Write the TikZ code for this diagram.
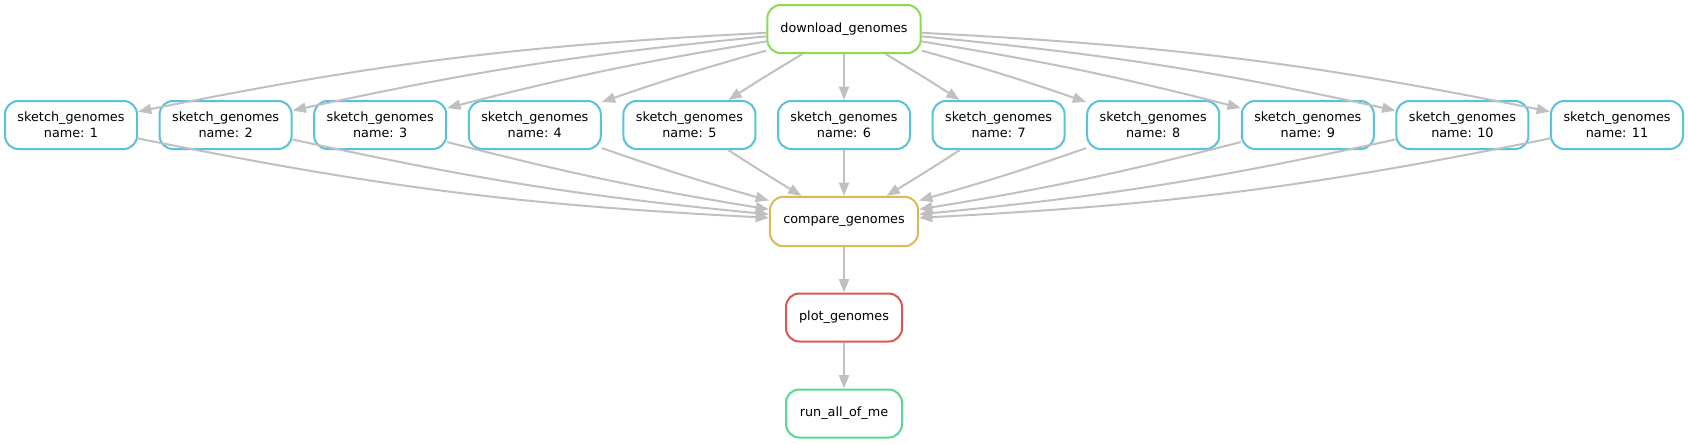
\documentclass[tikz,border=0pt]{standalone}
\usepackage{fontspec}
\setmainfont{DejaVu Sans}
\usetikzlibrary{arrows.meta}
\definecolor{dlgreen}{HTML}{8BD957}
\definecolor{skblue}{HTML}{57C2D9}
\definecolor{cmpyellow}{HTML}{D9BA57}
\definecolor{plotred}{HTML}{D95757}
\definecolor{rungreen}{HTML}{57D98B}
\definecolor{edgegrey}{HTML}{C0C0C0}
\tikzstyle{every node}=[font=\fontsize{9.6}{12}\selectfont]
\tikzstyle{rule} = [draw,line width=1.5pt,rounded corners=10pt,minimum height=36pt,align=center,inner sep=2pt,fill=white]
\tikzstyle{arrow} = [line width=1.5pt,draw=edgegrey,-{Triangle[length=10pt,width=7.5pt]}]

\begin{document}
\begin{tikzpicture}[x=0.75pt,y=-0.75pt]
\useasboundingbox (0,0) rectangle (1688,443);

% rules
\node[rule,draw=dlgreen,minimum width=115pt] (dl) at (844,29) {download\_genomes};
\foreach \i in {1,...,11}
  \node[rule,draw=skblue,minimum width=99pt] (s\i) at ({71+(\i-1)*154.6},125) {sketch\_genomes\\name: \i};
\node[rule,draw=cmpyellow,minimum width=111pt,minimum height=37pt] (cmp) at (844,221.5) {compare\_genomes};
\node[rule,draw=plotred,minimum width=87pt] (plot) at (844,317.5) {plot\_genomes};
\node[rule,draw=rungreen,minimum width=87pt] (run) at (844,413.5) {run\_all\_of\_me};

% edges
\foreach \i in {1,...,11}{
  \pgfmathsetmacro{\b}{(\i-6)*0.85}
  \draw[arrow] (dl) to[bend left=\b] (s\i);
  \draw[arrow] (s\i) to[bend left=\b] (cmp);
}
\draw[arrow] (cmp) -- (plot);
\draw[arrow] (plot) -- (run);

\end{tikzpicture}
\end{document}
